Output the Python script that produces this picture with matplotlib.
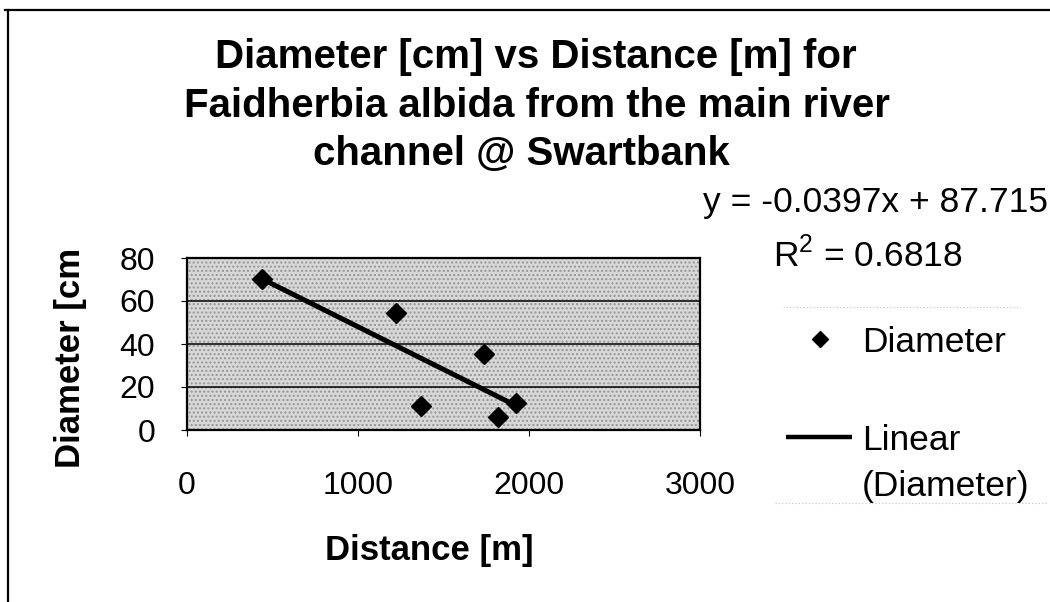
import matplotlib
matplotlib.use("Agg")
import matplotlib.pyplot as plt
from matplotlib.lines import Line2D
from matplotlib.patches import Rectangle
from matplotlib.transforms import Bbox

# Field measurements: distance of each tree from the main river channel
distance_m = [440, 1225, 1370, 1735, 1820, 1925]
diameter_cm = [70.4, 54.5, 11.3, 35.5, 5.9, 12.5]

# Least-squares fit reported on the chart
slope = -0.0397
intercept = 87.715
r_squared = 0.6818

x_ticks = [0, 1000, 2000, 3000]
y_ticks = [0, 20, 40, 60, 80]

title_lines = [
    "Diameter [cm] vs Distance [m] for",
    "Faidherbia albida from the main river",
    "channel @ Swartbank",
]

plt.rcParams["font.family"] = ["Liberation Sans", "DejaVu Sans"]
plt.rcParams["mathtext.fontset"] = "custom"
plt.rcParams["mathtext.rm"] = "Liberation Sans"
plt.rcParams["hatch.linewidth"] = 1.0

W, H = 1050, 602
fig = plt.figure(figsize=(W / 100, H / 100), dpi=100)
fig.patch.set_facecolor("white")


def fx(x):
    return x / W


def fy(y):
    return 1 - y / H


# Chart frame (top and left edges)
fig.add_artist(Line2D([fx(5), fx(1050)], [fy(10), fy(10)], color="black", lw=1.6,
                      transform=fig.transFigure))
fig.add_artist(Line2D([fx(8), fx(8)], [fy(10), fy(602)], color="black", lw=1.6,
                      transform=fig.transFigure))

# Plot area
ax = fig.add_axes([fx(187), fy(430), (700 - 187) / W, (430 - 258) / H])
ax.set_facecolor("#d8d8d8")
ax.add_patch(Rectangle((0, 0), 1, 1, transform=ax.transAxes, facecolor="none",
                       edgecolor="#959595", hatch="....", lw=0, zorder=0))
ax.set_xlim(x_ticks[0], x_ticks[-1])
ax.set_ylim(y_ticks[0], y_ticks[-1])
ax.set_xticks(x_ticks)
ax.set_yticks(y_ticks)
ax.yaxis.grid(True, color="black", lw=1.1)
ax.set_axisbelow(True)
for s in ax.spines.values():
    s.set_linewidth(1.6)
    s.set_color("black")
ax.tick_params(axis="both", direction="out", length=4, width=0.8, labelsize=23)
ax.tick_params(axis="x", pad=25.5)
ax.tick_params(axis="y", pad=19)

# Observations
ax.plot(distance_m, diameter_cm, linestyle="none", marker="D", ms=10,
        color="black", zorder=3, clip_on=False)

# Linear trend line over the observed distance range
x0, x1 = min(distance_m), max(distance_m)
ax.plot([x0, x1], [slope * x0 + intercept, slope * x1 + intercept],
        color="black", lw=3.6, solid_capstyle="butt", zorder=2)

# Axis labels
ax.set_xlabel("Distance [m]", fontsize=25, fontweight="bold")
ax.xaxis.label.set_va("baseline")
ax.xaxis.set_label_coords((429 - 187) / 513, (42 - 172) / 172)

ylab = fig.text(fx(80), fy(468), "Diameter [cm]", fontsize=25, fontweight="bold",
                rotation=90, rotation_mode="anchor", ha="left", va="baseline")
ylab.set_clip_box(Bbox.from_extents(0, 0, W, H - 249))
ylab.set_clip_on(True)

# Title
for txt, xc, yb in zip(title_lines, [536, 537, 521], [68, 117, 165]):
    fig.text(fx(xc), fy(yb), txt, fontsize=29, fontweight="bold",
             ha="center", va="baseline")

# Trend line equation and R²
fig.text(fx(1048), fy(212), f"y = {slope:.4f}x + {intercept:.3f}", fontsize=25.5,
         ha="right", va="baseline")
fig.text(fx(773), fy(267), r"R$^{2}$" + f" = {r_squared:.4f}", fontsize=25.5,
         ha="left", va="baseline")

# Legend
for yy, xa, xb in [(307, 783, 1020), (503, 775, 1048)]:
    fig.add_artist(Line2D([fx(xa), fx(xb)], [fy(yy), fy(yy)], color="#c4c4c4",
                          lw=0.8, linestyle=(0, (1, 2)), transform=fig.transFigure))
fig.add_artist(Line2D([fx(820)], [fy(339)], marker="D", ms=8.0, color="black",
                      linestyle="none", transform=fig.transFigure))
fig.text(fx(862), fy(339), "Diameter", fontsize=25.5, ha="left", va="center_baseline")
fig.add_artist(Line2D([fx(786), fx(852)], [fy(437), fy(437)], color="black", lw=3.2,
                      solid_capstyle="butt", transform=fig.transFigure))
fig.text(fx(862), fy(437), "Linear", fontsize=25.5, ha="left", va="center_baseline")
fig.text(fx(862), fy(483), "(Diameter)", fontsize=25.5, ha="left", va="center_baseline")

fig.savefig("out.png", dpi=100, facecolor="white")
